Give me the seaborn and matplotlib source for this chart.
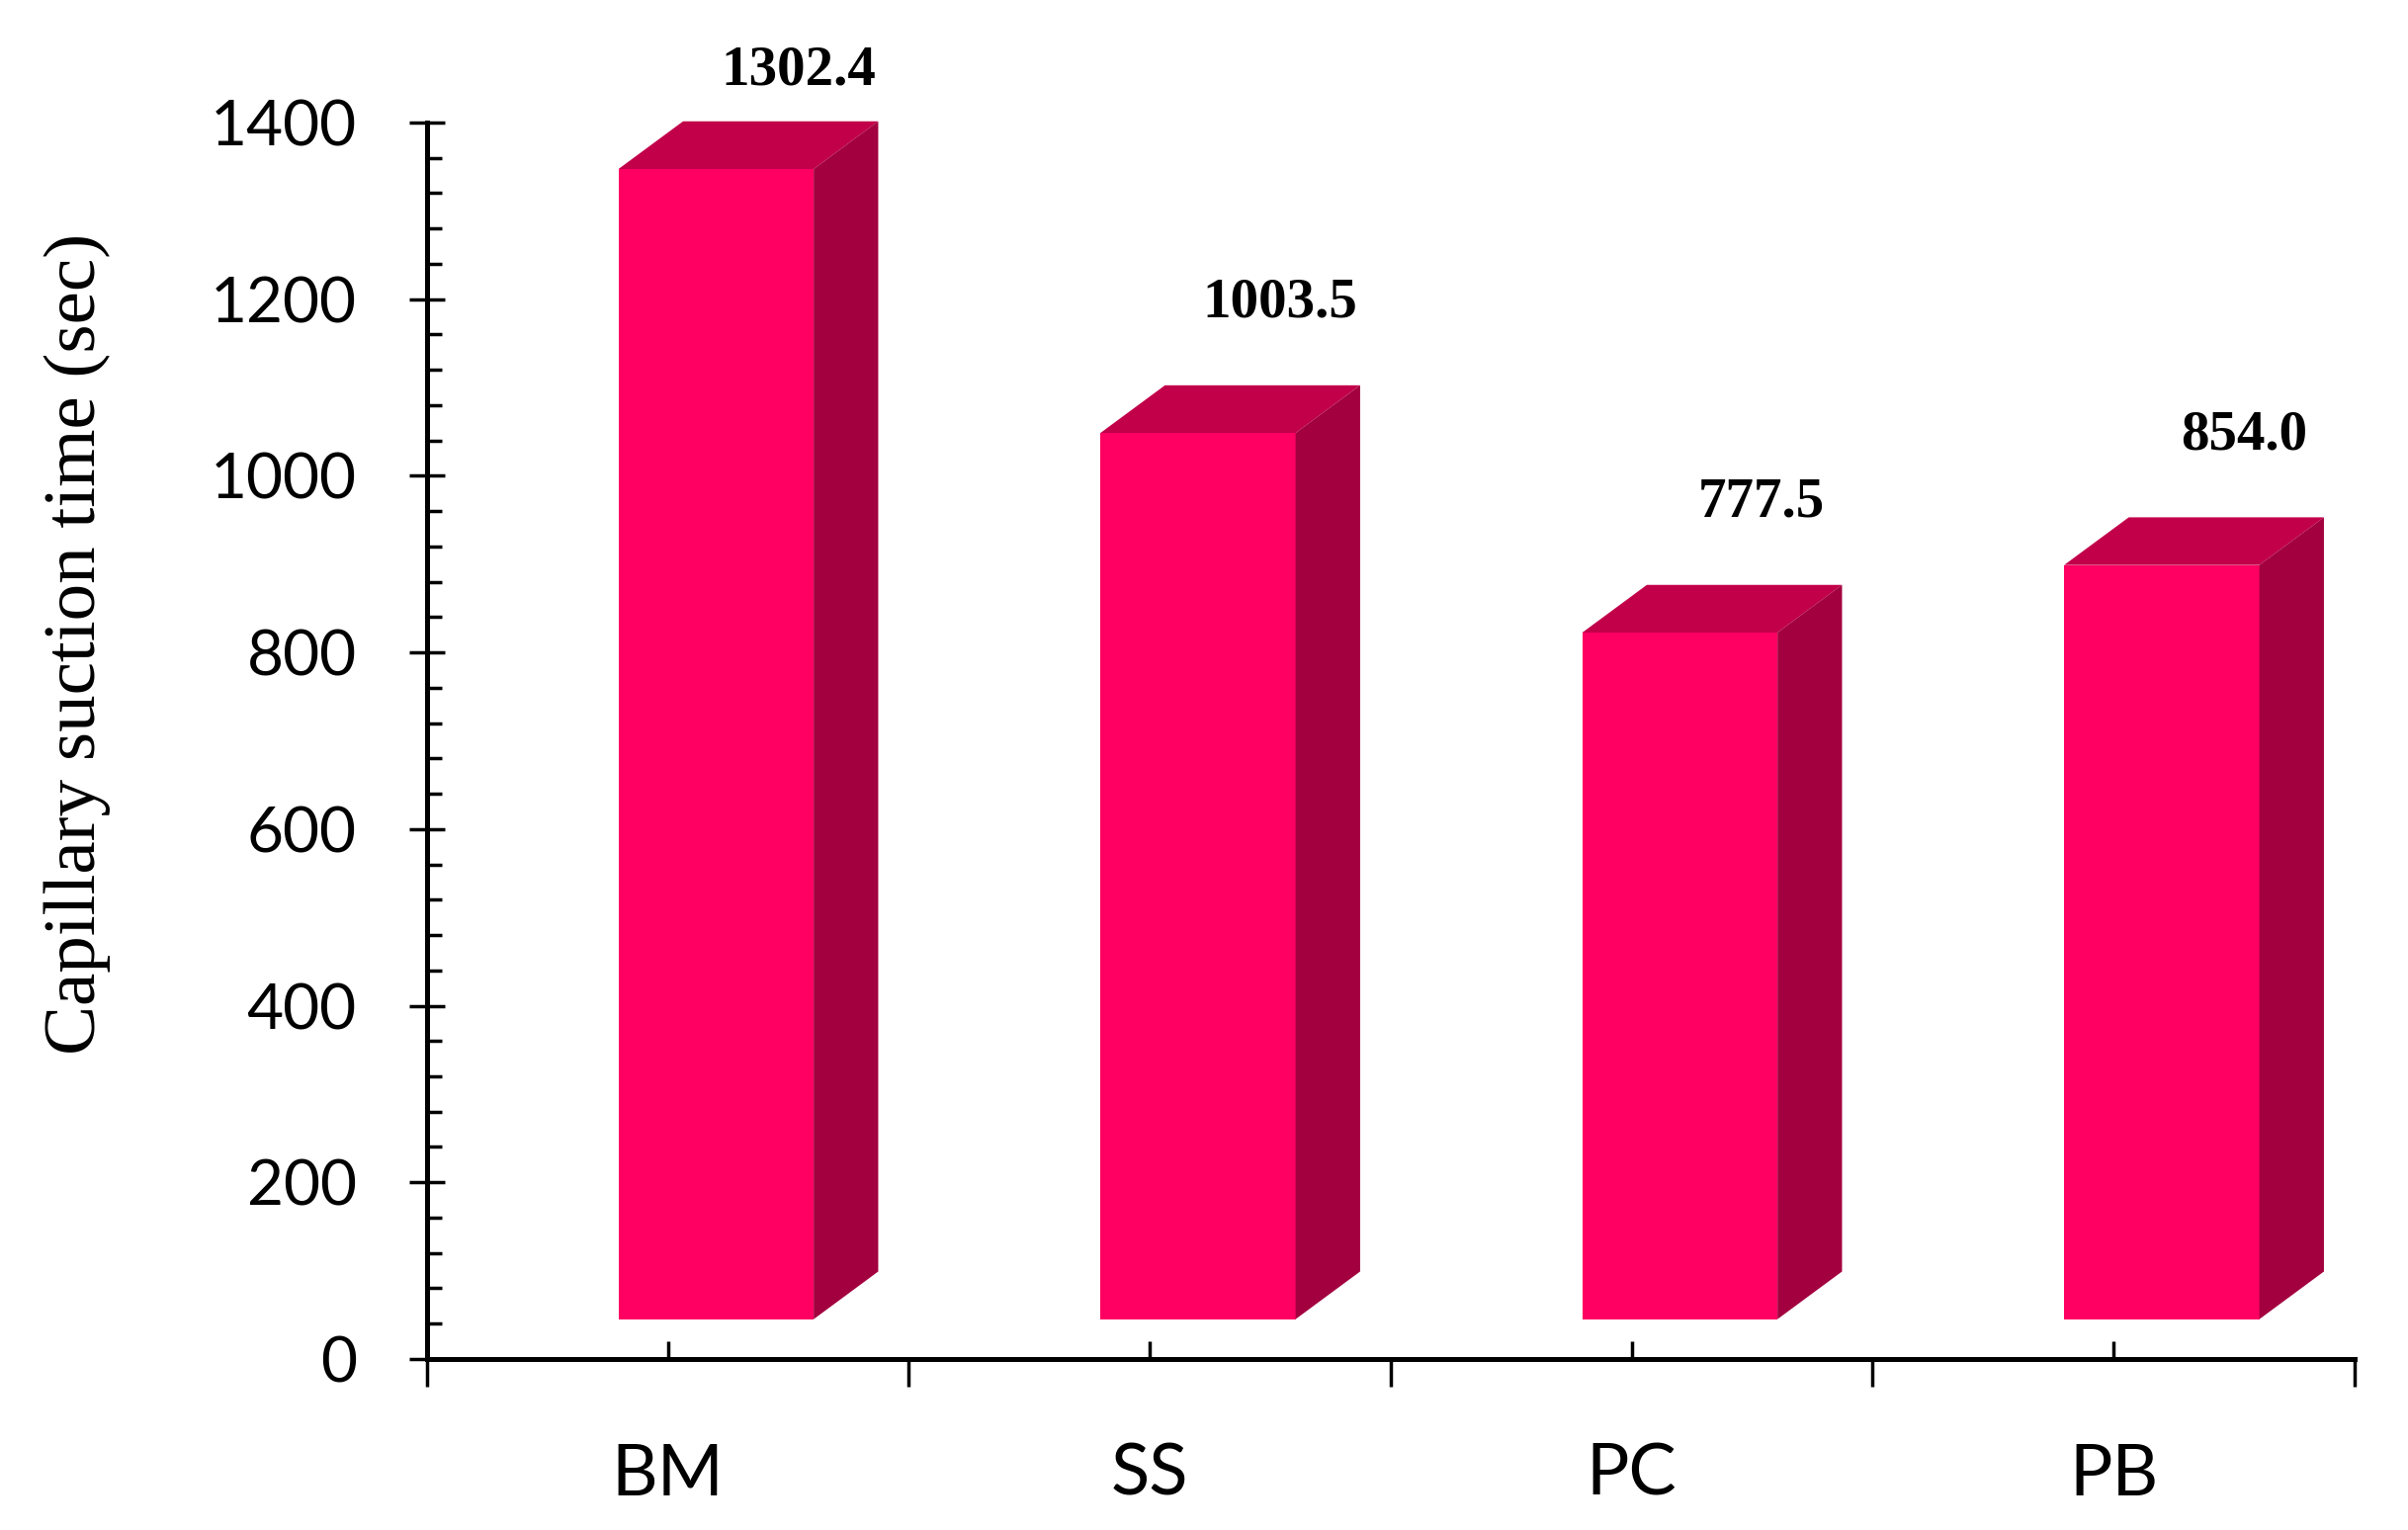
import matplotlib
matplotlib.use("Agg")
import matplotlib.pyplot as plt
from matplotlib.patches import Polygon
from matplotlib.ticker import MultipleLocator, FixedLocator
import pandas as pd
import seaborn as sns

categories = ["BM", "SS", "PC", "PB"]
suction_time = [1302.4, 1003.5, 777.5, 854.0]
value_labels = ["1302.4", "1003.5", "777.5", "854.0"]

FRONT = "#FF0062"
TOP = "#C2004A"
SIDE = "#A3003F"

sns.set_theme(style="white")
plt.rcParams["font.family"] = ["Lato", "DejaVu Sans"]

fig = plt.figure(figsize=(24.36, 15.48), dpi=100)
ax = fig.add_axes([0.1773, 0.1118, 0.8005, 0.8081])

df = pd.DataFrame({"sample": categories, "cst": suction_time})
sns.barplot(data=df, x="sample", y="cst", color=FRONT, saturation=1,
            width=0.405, ax=ax, zorder=3)

# fake 3d boxes: raised floor + depth offset like the excel original
floor = 45
dx, dy = 0.134, 54
bars = list(ax.patches)
for p, v, lab in zip(bars, suction_time, value_labels):
    p.set_x(p.get_x() + 0.1)
    p.set_y(floor)
    p.set_linewidth(0)
    p.set_clip_on(False)
    x0, w = p.get_x(), p.get_width()
    top = v + floor
    ax.add_patch(Polygon([(x0, top), (x0 + w, top), (x0 + w + dx, top + dy), (x0 + dx, top + dy)],
                         closed=True, facecolor=TOP, lw=0, zorder=3, clip_on=False))
    ax.add_patch(Polygon([(x0 + w, floor), (x0 + w + dx, floor + dy), (x0 + w + dx, top + dy), (x0 + w, top)],
                         closed=True, facecolor=SIDE, lw=0, zorder=3, clip_on=False))
    cx = x0 + 0.1025 + 0.27
    ax.text(cx, min(v + 192, 1459), lab, ha="center", va="center", fontsize=41,
            fontweight="bold", family="Liberation Serif", color="black", clip_on=False)

ax.set_xlim(-0.5, 3.5)
ax.set_ylim(0, 1400)
ax.yaxis.set_major_locator(MultipleLocator(200))
ax.yaxis.set_minor_locator(MultipleLocator(40))
ax.xaxis.set_minor_locator(FixedLocator([-0.5, 0.5, 1.5, 2.5, 3.5]))

for side in ["top", "right"]:
    ax.spines[side].set_visible(False)
for side in ["left", "bottom"]:
    ax.spines[side].set_color("black")
    ax.spines[side].set_linewidth(3.6)

ax.tick_params(axis="y", which="major", direction="inout", length=26.6, width=2.5,
               pad=38, labelsize=46, color="black", labelcolor="black", left=True)
ax.tick_params(axis="y", which="minor", direction="in", length=11, width=2.5,
               color="black", left=True)
ax.tick_params(axis="x", which="major", direction="in", length=13, width=2.5,
               pad=61, labelsize=52, color="black", labelcolor="black", bottom=True)
ax.tick_params(axis="x", which="minor", direction="out", length=20, width=2.5,
               color="black", bottom=True)

ax.set_xlabel("")
ax.set_ylabel("Capillary suction time (sec)", family="Liberation Serif", fontsize=54, color="black")
ax.yaxis.set_label_coords(-0.164, 0.578)

fig.savefig("out.png", dpi=100, facecolor="white")
